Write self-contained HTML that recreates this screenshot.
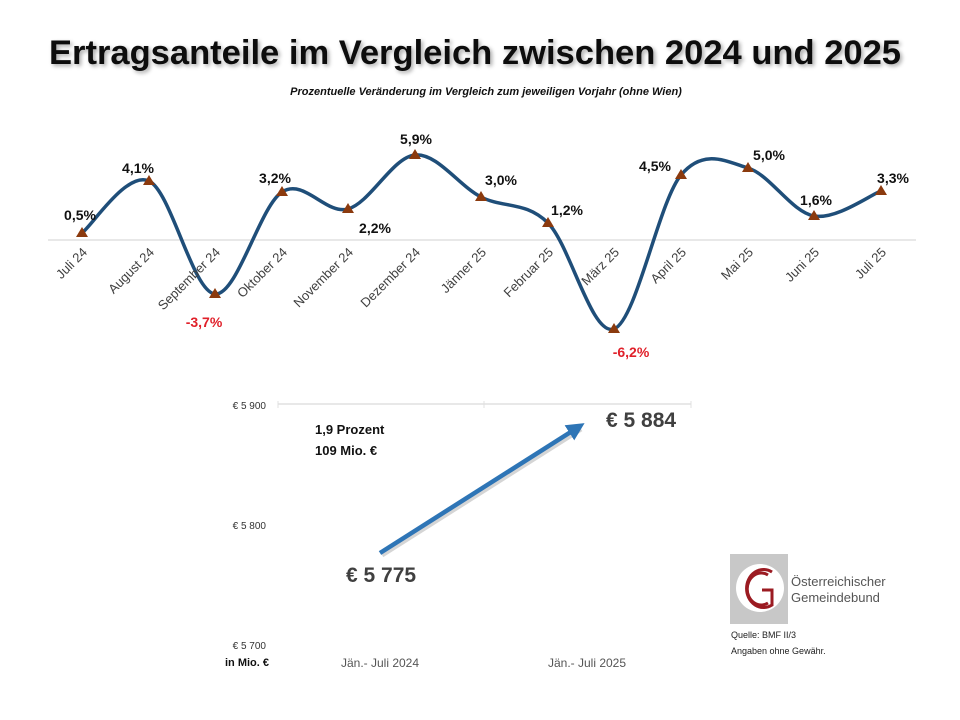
<!DOCTYPE html>
<html><head><meta charset="utf-8"><style>
body{margin:0;background:#fff;width:960px;height:720px;overflow:hidden}
svg{display:block}
</style></head><body>
<svg width="960" height="720" viewBox="0 0 960 720" xmlns="http://www.w3.org/2000/svg" font-family="'Liberation Sans', sans-serif">
<defs>
<filter id="sh" x="-10%" y="-10%" width="120%" height="140%"><feGaussianBlur in="SourceAlpha" stdDeviation="2"/><feOffset dx="2" dy="2"/><feComponentTransfer><feFuncA type="linear" slope="0.35"/></feComponentTransfer><feMerge><feMergeNode/><feMergeNode in="SourceGraphic"/></feMerge></filter>
<marker id="ah" markerWidth="4" markerHeight="4" refX="2" refY="2" orient="auto"><path d="M0,0 L4,2 L0,4 Z" fill="#2e75b6"/></marker>
</defs>
<text x="475" y="64" text-anchor="middle" font-size="34" font-weight="bold" fill="#111" filter="url(#sh)" textLength="852" lengthAdjust="spacingAndGlyphs">Ertragsanteile im Vergleich zwischen 2024 und 2025</text>
<text x="486" y="95" text-anchor="middle" font-size="11" font-weight="bold" font-style="italic" fill="#111">Prozentuelle Veränderung im Vergleich zum jeweiligen Vorjahr (ohne Wien)</text>
<line x1="48" y1="240" x2="916" y2="240" stroke="#d0d0d0" stroke-width="1"/>
<path d="M82,233 C93.2,224.3 126.8,170.8 149,181 C171.2,191.2 192.8,292.2 215,294 C237.2,295.8 259.8,206.2 282,192 C304.2,177.8 325.8,215.2 348,209 C370.2,202.8 392.8,157 415,155 C437.2,153 458.8,185.7 481,197 C503.2,208.3 525.8,201 548,223 C570.2,245 591.8,337 614,329 C636.2,321 658.7,201.8 681,175 C703.3,148.2 725.8,161.2 748,168 C770.2,174.8 791.8,212.2 814,216 C836.2,219.8 869.8,195.2 881,191" fill="none" stroke="#1f4e79" stroke-width="3.5"/>
<g fill="#8b3a0e">
<path d="M82,227 l6,10 h-12z"/><path d="M149,175 l6,10 h-12z"/><path d="M215,288 l6,10 h-12z"/><path d="M282,186 l6,10 h-12z"/><path d="M348,203 l6,10 h-12z"/><path d="M415,149 l6,10 h-12z"/><path d="M481,191 l6,10 h-12z"/><path d="M548,217 l6,10 h-12z"/><path d="M614,323 l6,10 h-12z"/><path d="M681,169 l6,10 h-12z"/><path d="M748,162 l6,10 h-12z"/><path d="M814,210 l6,10 h-12z"/><path d="M881,185 l6,10 h-12z"/>
</g>
<g font-size="14" font-weight="bold" fill="#111" text-anchor="middle">
<text x="80" y="220">0,5%</text><text x="138" y="173">4,1%</text><text x="204" y="327" fill="#e0202a">-3,7%</text><text x="275" y="183">3,2%</text><text x="375" y="233">2,2%</text><text x="416" y="144">5,9%</text><text x="501" y="185">3,0%</text><text x="567" y="215">1,2%</text><text x="631" y="357" fill="#e0202a">-6,2%</text><text x="655" y="171">4,5%</text><text x="769" y="160">5,0%</text><text x="816" y="205">1,6%</text><text x="893" y="183">3,3%</text>
</g>
<g font-size="13" fill="#404040" text-anchor="end">
<text transform="translate(88,253) rotate(-45)">Juli 24</text>
<text transform="translate(155,253) rotate(-45)">August 24</text>
<text transform="translate(221,253) rotate(-45)">September 24</text>
<text transform="translate(288,253) rotate(-45)">Oktober 24</text>
<text transform="translate(354,253) rotate(-45)">November 24</text>
<text transform="translate(421,253) rotate(-45)">Dezember 24</text>
<text transform="translate(487,253) rotate(-45)">Jänner 25</text>
<text transform="translate(554,253) rotate(-45)">Februar 25</text>
<text transform="translate(620,253) rotate(-45)">März 25</text>
<text transform="translate(687,253) rotate(-45)">April 25</text>
<text transform="translate(754,253) rotate(-45)">Mai 25</text>
<text transform="translate(820,253) rotate(-45)">Juni 25</text>
<text transform="translate(887,253) rotate(-45)">Juli 25</text>
</g>
<line x1="278" y1="404" x2="691" y2="404" stroke="#e0e0e0" stroke-width="1.5"/>
<line x1="278" y1="401" x2="278" y2="408" stroke="#e0e0e0"/><line x1="484" y1="401" x2="484" y2="408" stroke="#e0e0e0"/><line x1="691" y1="401" x2="691" y2="408" stroke="#e0e0e0"/>
<g font-size="10" fill="#333" text-anchor="end">
<text x="266" y="409">€ 5 900</text><text x="266" y="529">€ 5 800</text><text x="266" y="649">€ 5 700</text>
</g>
<text x="225" y="666" font-size="11" font-weight="bold" fill="#111">in Mio. €</text>
<text x="380" y="667" font-size="12" fill="#555" text-anchor="middle">Jän.- Juli 2024</text>
<text x="587" y="667" font-size="12" fill="#555" text-anchor="middle">Jän.- Juli 2025</text>
<text x="315" y="434" font-size="13" font-weight="bold" fill="#111">1,9 Prozent</text>
<text x="315" y="455" font-size="13" font-weight="bold" fill="#111">109 Mio. €</text>
<line x1="380" y1="553" x2="579" y2="427" stroke="#888" stroke-width="5" opacity="0.35" transform="translate(2,2)"/>
<line x1="380" y1="553" x2="577" y2="428" stroke="#2e75b6" stroke-width="4.5" marker-end="url(#ah)"/>
<text x="606" y="427" font-size="21" font-weight="bold" fill="#404040">€ 5 884</text>
<text x="346" y="582" font-size="21" font-weight="bold" fill="#404040">€ 5 775</text>
<rect x="730" y="554" width="58" height="70" fill="#c8c8c8"/>
<circle cx="760" cy="588" r="24" fill="#fff"/>
<path d="M768,575 A14,16 0 1 0 768,603" fill="none" stroke="#9b1b22" stroke-width="3"/>
<path d="M772,572 A17,19 0 1 0 772,605 L772,590 L762,590" fill="none" stroke="#9b1b22" stroke-width="3"/>
<text x="791" y="586" font-size="13" fill="#555">Österreichischer</text>
<text x="791" y="602" font-size="13" fill="#555">Gemeindebund</text>
<text x="731" y="638" font-size="9" fill="#222">Quelle: BMF II/3</text>
<text x="731" y="654" font-size="9" fill="#222">Angaben ohne Gewähr.</text>
</svg>
</body></html>
